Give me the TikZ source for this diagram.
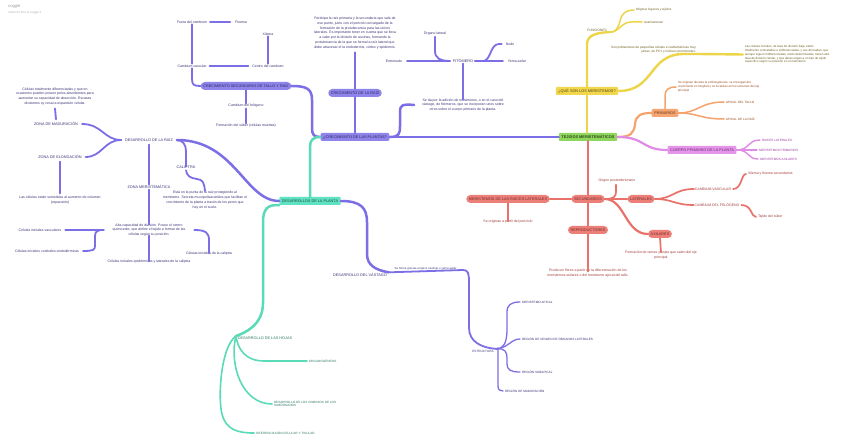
\documentclass[tikz,border=0pt]{standalone}
\usepackage{fontspec}
\setmainfont{Liberation Sans}
\newcommand\myfpara{\fontsize{3.5}{4.9}\selectfont}
\newcommand\myfcap{\fontsize{3.8}{4.6}\selectfont}
\newcommand\myfsmall{\fontsize{3.1}{3.8}\selectfont}
\definecolor{purL}{HTML}{7C6FE6}
\definecolor{purF}{HTML}{8E84EA}
\definecolor{purT}{HTML}{3A3477}
\definecolor{teaL}{HTML}{5ADBB8}
\definecolor{teaF}{HTML}{5FE2C1}
\definecolor{teaT}{HTML}{2F7A66}
\definecolor{grnF}{HTML}{8FD65E}
\definecolor{grnT}{HTML}{2C4A14}
\definecolor{yelL}{HTML}{EDD54A}
\definecolor{yelF}{HTML}{F2D64B}
\definecolor{yelT}{HTML}{6E5F1E}
\definecolor{oraL}{HTML}{F5A36C}
\definecolor{oraF}{HTML}{F4A572}
\definecolor{oraT}{HTML}{9A4A1C}
\definecolor{pinL}{HTML}{E08BE6}
\definecolor{pinF}{HTML}{E495EA}
\definecolor{pinT}{HTML}{9A3AA2}
\definecolor{redL}{HTML}{E8726A}
\definecolor{redF}{HTML}{EC8079}
\definecolor{redT}{HTML}{A33B3B}
\tikzset{
  basetx/.style={inner xsep=1.8pt, inner ysep=0.8pt, align=center},
  ptx/.style={basetx, text=purT, font=\myfpara},
  pcap/.style={basetx, text=purT, font=\myfcap},
  psm/.style={basetx, text=purT, font=\myfsmall, anchor=west},
  ttx/.style={basetx, text=teaT, font=\myfsmall, anchor=west, align=left},
  tcap/.style={basetx, text=teaT, font=\myfcap},
  ytx/.style={basetx, text=yelT, font=\myfsmall},
  otx/.style={basetx, text=oraT, font=\myfsmall},
  ktx/.style={basetx, text=pinT, font=\myfsmall, anchor=west},
  rtx/.style={basetx, text=redT, font=\myfpara},
  boxbase/.style={minimum height=8pt, inner xsep=2.6pt, inner ysep=0pt, font=\myfcap},
  ppill/.style={boxbase, fill=purF, text=purT!80!black, rounded corners=4pt},
  pbox/.style={boxbase, fill=purF, text=purT!80!black, rounded corners=1.2pt},
  tbox/.style={boxbase, fill=teaF, text=teaT!60!black, rounded corners=0.8pt},
  gbox/.style={boxbase, fill=grnF, text=grnT, rounded corners=1pt, font=\fontsize{3.9}{4.6}\selectfont\bfseries},
  ybox/.style={boxbase, fill=yelF, text=yelT!70!black, rounded corners=1pt},
  obox/.style={boxbase, fill=oraF, text=oraT!70!black, rounded corners=1.2pt},
  kbox/.style={boxbase, fill=pinF, text=pinT!70!black, rounded corners=0.8pt},
  rbox/.style={boxbase, fill=redF, text=redT!70!black, rounded corners=4pt},
  conn/.style={line cap=round, line join=round},
  plA/.style={conn, draw=purL, line width=2.5pt},
  plB/.style={conn, draw=purL, line width=1.8pt},
  plC/.style={conn, draw=purL, line width=1.3pt},
  tlA/.style={conn, draw=teaL, line width=2.5pt},
  tlC/.style={conn, draw=teaL, line width=1.6pt},
  ylA/.style={conn, draw=yelL, line width=2.4pt},
  ylC/.style={conn, draw=yelL, line width=1.5pt},
  olA/.style={conn, draw=oraL, line width=2.2pt},
  olC/.style={conn, draw=oraL, line width=1.5pt},
  klA/.style={conn, draw=pinL, line width=2.2pt},
  klC/.style={conn, draw=pinL, line width=1.4pt},
  rlA/.style={conn, draw=redL, line width=2.2pt},
  rlC/.style={conn, draw=redL, line width=1.7pt},
}
\begin{document}
\begin{tikzpicture}[x=1pt,y=-1pt]
\useasboundingbox (0,0) rectangle (848,446);
\fill[white] (0,0) rectangle (848,446);

% header
\node[anchor=west, text=gray!75, font=\fontsize{4.2}{5}\selectfont, inner sep=0pt] (logo) at (8,6) {coggle};
\node[anchor=west, text=gray!60, font=\fontsize{3}{4}\selectfont, inner sep=0pt] (made) at (8,13) {made for free at coggle.it};

% ===== purple: crecimiento secundario
\node[ptx] (fuera) at (192,22) {Fuera del cambium};
\node[ptx] (floema) at (241,22) {Floema};
\node[ptx] (xilema) at (268,34) {Xilema};
\node[ptx] (cvasc) at (192,66) {Cambium vascular};
\node[ptx] (centro) at (268,66) {Centro del cambium};
\node[ppill] (csec) at (246,86) {CRECIMIENTO SECUNDARIO DE TALLO Y RAÍZ};
\node[ptx] (cfel) at (246,106) {Cambium del felógeno};
\node[ptx] (suber) at (246,126) {Formación del súber (células muertas)};

\draw[plB] ([xshift=1pt]fuera.east) -- ([xshift=-3pt]floema.west);
\draw[plB] (cvasc.north) -- (fuera.south);
\draw[plB] ([xshift=1pt]cvasc.east) -- ([xshift=-2pt]centro.west);
\draw[plB] (centro.north) -- (xilema.south);
\draw[plB] (cvasc.south) -- (192,79) .. controls (192,85) and (194,86) .. (csec.west);
\draw[plB] (csec.south) -- (cfel.north);
\draw[plB] (cfel.south) -- (suber.north);

% ===== purple: crecimiento de las plantas
\node[ptx] (partp) at (355,33) {Participa la raíz primaria y la secundaria que sale de\\ese punto, junto con el periciclo encargado de la\\formación de la protuberancia para las raíces\\laterales. Es importante tener en cuenta que se lleva\\a cabo por la división de auxinas, formando la\\protuberancia de la que se forma la raíz lateral que\\debe atravesar el la endodermis, córtex y epidermis.};
\node[ppill] (craiz) at (355,93) {CRECIMIENTO DE LA RAÍZ};
\node[pbox] (cplant) at (355,137) {¿CRECIMIENTO DE LAS PLANTAS?};
\draw[plA] (csec.east) .. controls (307,86) and (312,89) .. (312,100) -- (312,128) .. controls (312,135) and (314,137) .. (cplant.west);
\draw[plA] (cplant.north) -- (craiz.south);
\draw[plB] (craiz.north) -- ([yshift=-2pt]partp.south);

\node[pcap] (fito) at (463,61) {FITÓMERO};
\node[ptx] (entre) at (394,61) {Entrenudo};
\node[ptx] (organo) at (435,33) {Órgano lateral};
\node[ptx] (nodo) at (510,44) {Nodo};
\node[ptx] (yema) at (517,61) {Yema axilar};
\node[ptx] (sedap) at (463,105) {Se da por la adición de metámeros, o en el caso del\\vástago, de fitómeros, que se incorporan unos sobre\\otros sobre el cuerpo primario de la planta.};
\draw[plB] ([xshift=3pt]entre.east) -- ([xshift=-1pt]fito.west);
\draw[plB] ([yshift=-1pt]organo.south) -- (435,51) .. controls (435,58) and (440,61) .. ([xshift=-1pt]fito.west);
\draw[plB] (fito.east) -- ([xshift=-3pt]yema.west);
\draw[plB] (fito.east) -- (483,61) .. controls (491,61) and (490,44) .. (499,44) -- ([xshift=-2pt]nodo.west);
\draw[plB] (fito.south) -- ([yshift=-2pt]sedap.north);
\draw[plA] (cplant.east) .. controls (399,137) and (400,134) .. (400,126) -- (400,111) .. controls (400,105) and (403,104) .. ([xshift=-6pt]sedap.west);

% ===== purple: desarrollo de la raiz
\node[pcap] (desraiz) at (149,140) {DESARROLLO DE LA RAÍZ};
\node[pcap] (zmad) at (56,124) {ZONA DE MADURACIÓN};
\node[ptx] (zmadp) at (55,96.5) {Células totalmente diferenciadas y que en\\ocasiones pueden poseer pelos absorbentes para\\aumentar su capacidad de absorción. Escasas\\divisiones sy cesa la expansión celular.};
\node[pcap] (zelo) at (60,157) {ZONA DE ELONGACIÓN};
\node[ptx] (zelop) at (60,200.5) {Las células están sometidas al aumento de volumen\\(expansión)};
\draw[plB] ([xshift=-2pt]desraiz.west) .. controls (104,140) and (102,124) .. ([xshift=2pt]zmad.east);
\draw[plB] ([xshift=-2pt]desraiz.west) .. controls (104,140) and (102,157) .. ([xshift=2pt]zelo.east);
\draw[plB] ([yshift=2pt]zmad.north) -- ([yshift=-2pt]zmadp.south);
\draw[plB] ([yshift=-2pt]zelo.south) -- ([yshift=2pt]zelop.north);

\node[pcap] (zmer) at (149,187) {ZONA MERISTEMÁTICA};
\node[ptx] (zmerp) at (149,230) {Alta capacidad de división. Posee el centro\\quiescente, que define el tejido a formar de las\\células según su posición.};
\node[ptx] (cied) at (149,262) {Células iniciales epidérmicas y laterales de la caliptra};
\node[ptx] (civ) at (40,230) {Células iniciales vasculares};
\node[ptx] (cice) at (47,251) {Células iniciales corticales-endodérmicas};
\node[ptx] (cicc) at (209,254) {Células iniciales de la caliptra};
\draw[plB] ([yshift=-2pt]desraiz.south) -- (zmer.north);
\draw[plB] (zmer.south) -- ([yshift=-2pt]zmerp.north);
\draw[plB] ([yshift=2pt]zmerp.south) -- ([yshift=-2pt]cied.north);
\draw[plB] ([xshift=2pt]civ.east) -- ([xshift=-7pt]zmerp.west);
\draw[plB] ([xshift=-7pt]zmerp.west) .. controls (96,230) and (95,232) .. (95,237) -- (95,246) .. controls (95,250) and (93,251) .. ([xshift=2pt]cice.east);
\draw[plB] ([xshift=7pt]zmerp.east) .. controls (206,230) and (209,233) .. (209,240) -- ([yshift=-2pt]cicc.north);

\node[pcap] (calip) at (186,167) {CALIPTRA};
\node[ptx] (calipp) at (205,200) {Está en la punta de la raíz protegiendo al\\meristemo. Secreta mucopolisacáridos que facilitan el\\crecimiento de la planta a través de los poros que\\hay en el suelo.};
\draw[plB] ([xshift=2pt]desraiz.east) .. controls (183,140) and (186,145) .. (186,151) -- ([yshift=-2pt]calip.north);
\draw[plB] ([yshift=-1pt]calip.south) .. controls (187,176) and (190,178) .. (197,179) .. controls (203,180) and (204,182) .. ([yshift=-1pt]calipp.north);

% ===== teal: desarrollos de la planta
\node[tbox] (desplanta) at (310,201) {DESARROLLOS DE LA PLANTA};
\draw[plA] ([xshift=2pt]desraiz.east) .. controls (235,140) and (245,201) .. (desplanta.west);
\draw[tlA] (desplanta.north) -- (310,147) .. controls (310,140) and (313,137) .. (cplant.west);

\node[tcap] (hojas) at (265,338) {DESARROLLO DE LAS HOJAS};
\node[ttx] (organog) at (307,361) {ORGANOGÉNESIS};
\node[ttx] (domin) at (272,404) {DESARROLLO DE LOS DOMINIOS DE LOS\\SUBÓRGANOS};
\node[ttx] (difer) at (254,433) {DIFERENCIACIÓN CELULAR Y TISULAR};
\draw[tlA] (desplanta.south west) .. controls (267,204) and (263,210) .. (263,222) -- (263,303) .. controls (263,325) and (245,333) .. ([yshift=2pt]hojas.west);
\draw[tlC] ([yshift=2pt]hojas.west) .. controls (238,350) and (246,361) .. (264,361) -- (organog.west);
\draw[tlC] ([yshift=2pt]hojas.west) .. controls (229,365) and (242,404) .. (domin.west);
\draw[tlC] ([yshift=2pt]hojas.west) .. controls (220,348) and (218,400) .. (222,414) .. controls (226,430) and (238,433) .. (difer.west);

% ===== purple: desarrollo del vastago
\node[pcap] (vastago) at (360,275) {DESARROLLO DEL VÁSTAGO};
\node[ptx] (estr) at (483,351) {\myfsmall ESTRUCTURA};
\node[psm] (mapi) at (520,302) {MERISTEMO APICAL};
\node[psm] (rorig) at (520,339) {REGIÓN DE ORIGEN DE ÓRGANOS LATERALES};
\node[psm] (rsub) at (520,372) {REGIÓN SUBAPICAL};
\node[psm] (rmad) at (503,391) {REGIÓN DE MADURACIÓN};
\draw[plA] (desplanta.east) .. controls (361,201) and (367,208) .. (367,222) -- (367,254) .. controls (367,265) and (375,270) .. (vastago.north east);
\draw[plB] (vastago.north east) -- node[above=-0.3pt, text=purT, font=\fontsize{2.9}{3.5}\selectfont, inner sep=0.5pt] (lblv) {Se forma gracias al ápice caulinar o yema axilar.} (463,270) .. controls (468,270) and (469,273) .. (469,282) -- (469,328) .. controls (469,342) and (482,348) .. ([xshift=1pt]estr.north east);
\draw[plC] ([xshift=1pt]estr.north east) .. controls (505,348) and (507,341) .. (507,328) -- (507,312) .. controls (507,305) and (511,302) .. (mapi.west);
\draw[plC] ([xshift=1pt]estr.north east) .. controls (508,348) and (511,339) .. (rorig.west);
\draw[plC] ([xshift=1pt]estr.north east) .. controls (505,348) and (507,352) .. (507,358) -- (507,364) .. controls (507,370) and (511,372) .. (rsub.west);
\draw[plC] ([xshift=1pt]estr.north east) -- (498,348) -- (498,386) .. controls (498,390) and (500,391) .. (rmad.west);

% ===== tejidos meristematicos
\node[gbox] (tejidos) at (588,137) {TEJIDOS MERISTEMÁTICOS};
\draw[plA] (cplant.east) -- (tejidos.west);

% yellow
\node[ybox] (quees) at (587,91) {¿QUÉ SON LOS MERISTEMOS?};
\node[ytx, font=\fontsize{3.3}{4}\selectfont] (func) at (597,30) {FUNCIONES};
\node[ytx, anchor=west] (orig) at (634,10) {Originar órganos y tejidos};
\node[ytx, anchor=west] (autom) at (642,22) {Automantener};
\node[ytx, anchor=south east, align=right, font=\fontsize{3.2}{4.3}\selectfont] (sonp) at (698,54) {Son poblaciones de pequeñas células e isodiamétricas muy\\juntas, de PC1 y núcleos prominentes.};
\node[ytx, anchor=west, align=left, font=\fontsize{3.0}{3.75}\selectfont] (lascel) at (743,54.5) {Las células iniciales, de tasa de división baja, están\\totalmente contratadas e indiferenciadas, y sus derivadas, que\\aunque siguen indiferenciadas, están determinadas, tienen alta\\tasa de división celular, y que darán origen a un tipo de tejido\\específico según su posición en el meristemo.};
\draw[ylA] (tejidos.north -| quees.south) -- (quees.south);
\draw[ylA] (quees.north) -- (587,45) .. controls (587,37) and (592,33) .. (func.south east);
\draw[ylC] (func.south east) .. controls (615,33) and (618,29) .. (620,21) .. controls (622,13) and (626,10) .. (orig.west);
\draw[ylC] (func.south east) .. controls (619,33) and (621,22) .. (631,22) -- (autom.west);
\draw[ylA] (quees.east) .. controls (655,91) and (648,54) .. (684,54) -- (sonp.south east);
\draw[ylA] (sonp.south east) -- (lascel.west);

% orange
\node[obox] (prim) at (665,113) {PRIMARIOS};
\node[otx, anchor=west, align=left, font=\fontsize{3.0}{4}\selectfont] (primp) at (676,87) {Se originan durante la embriogénesis, se encargan del\\crecimiento en longitud y se localizan en los extremos del eje\\principal};
\node[otx, anchor=west] (apt) at (724,102) {APICAL DEL TALLO};
\node[otx, anchor=west] (apr) at (724,119) {APICAL DE LA RAÍZ};
\draw[olA] (tejidos.east) .. controls (631,137) and (634,133) .. (635,124) .. controls (636,115) and (641,113) .. (prim.west);
\draw[olC] (prim.north) -- (665,96) .. controls (665,90) and (668,87) .. (primp.west);
\draw[olC] (prim.east) .. controls (698,113) and (700,102) .. (apt.west);
\draw[olC] (prim.east) .. controls (698,113) and (700,119) .. (apr.west);

% pink
\node[kbox] (cuerpo) at (702,150) {CUERPO PRIMARIO DE LA PLANTA};
\node[ktx] (rlat) at (760,140) {RAÍCES LATERALES};
\node[ktx] (mprim) at (757,150) {MERISTEMOS PRIMARIOS};
\node[ktx] (maxil) at (758,159) {MERISTEMOS AXILARES};
\draw[klA] (tejidos.east) .. controls (646,137) and (641,150) .. (cuerpo.west);
\draw[klC] (cuerpo.east) .. controls (750,150) and (747,140) .. (rlat.west);
\draw[klC] (cuerpo.east) -- (mprim.west);
\draw[klC] (cuerpo.east) .. controls (750,150) and (747,159) .. (maxil.west);

% red
\node[rbox] (secund) at (588,199) {SECUNDARIOS};
\node[rtx] (origen) at (617,181) {Origen postembrionario};
\node[rbox] (later) at (641,199) {LATERALES};
\node[rtx] (cvas2) at (713,189) {CAMBIUM VASCULAR};
\node[rtx] (cfel2) at (717,205) {CAMBIUM DEL FELÓGENO};
\node[rtx, anchor=west] (xfs) at (746,174) {Xilema y floema secundarios};
\node[rtx, anchor=west] (tsub) at (756,217) {Tejido del súber};
\node[rbox] (mrl) at (508,199) {MERISTEMOS DE LAS RAÍCES LATERALES};
\node[rtx] (sepr) at (508,222) {Se originan a partir del periciclo};
\node[rbox] (repro) at (588,230) {REPRODUCTORES};
\node[rtx] (prod) at (588,273.5) {Producen flores a partir de la diferenciación de los\\meristemos axilares o del meristemo apical del tallo.};
\node[rbox] (axil) at (660,234) {AXILARES};
\node[rtx] (formr) at (661,255.5) {Formación de ramas y hojas que salen del eje\\principal};
\draw[rlA] (tejidos.south) -- (secund.north);
\draw[rlC] (secund.east) .. controls (613,199) and (616,197) .. (616,192) -- ([xshift=-1pt,yshift=-1pt]origen.south);
\draw[rlA] (secund.east) -- (later.west);
\draw[rlC] (later.east) .. controls (673,199) and (674,189) .. ([xshift=1pt]cvas2.west);
\draw[rlC] (later.east) .. controls (673,199) and (674,205) .. ([xshift=1pt]cfel2.west);
\draw[rlC] (cvas2.east) .. controls (742,189) and (741,174) .. (xfs.west);
\draw[rlC] (cfel2.east) .. controls (752,205) and (751,217) .. (tsub.west);
\draw[rlA] (secund.west) -- (mrl.east);
\draw[rlC] (mrl.south) -- ([yshift=-2pt]sepr.north);
\draw[rlA] (secund.south) -- (repro.north);
\draw[rlC] (repro.south) -- ([yshift=-3pt]prod.north);
\draw[rlA] (secund.east) .. controls (625,199) and (625,234) .. (axil.west);
\draw[rlC] (axil.south) -- ([yshift=-2pt]formr.north);
\end{tikzpicture}
\end{document}
